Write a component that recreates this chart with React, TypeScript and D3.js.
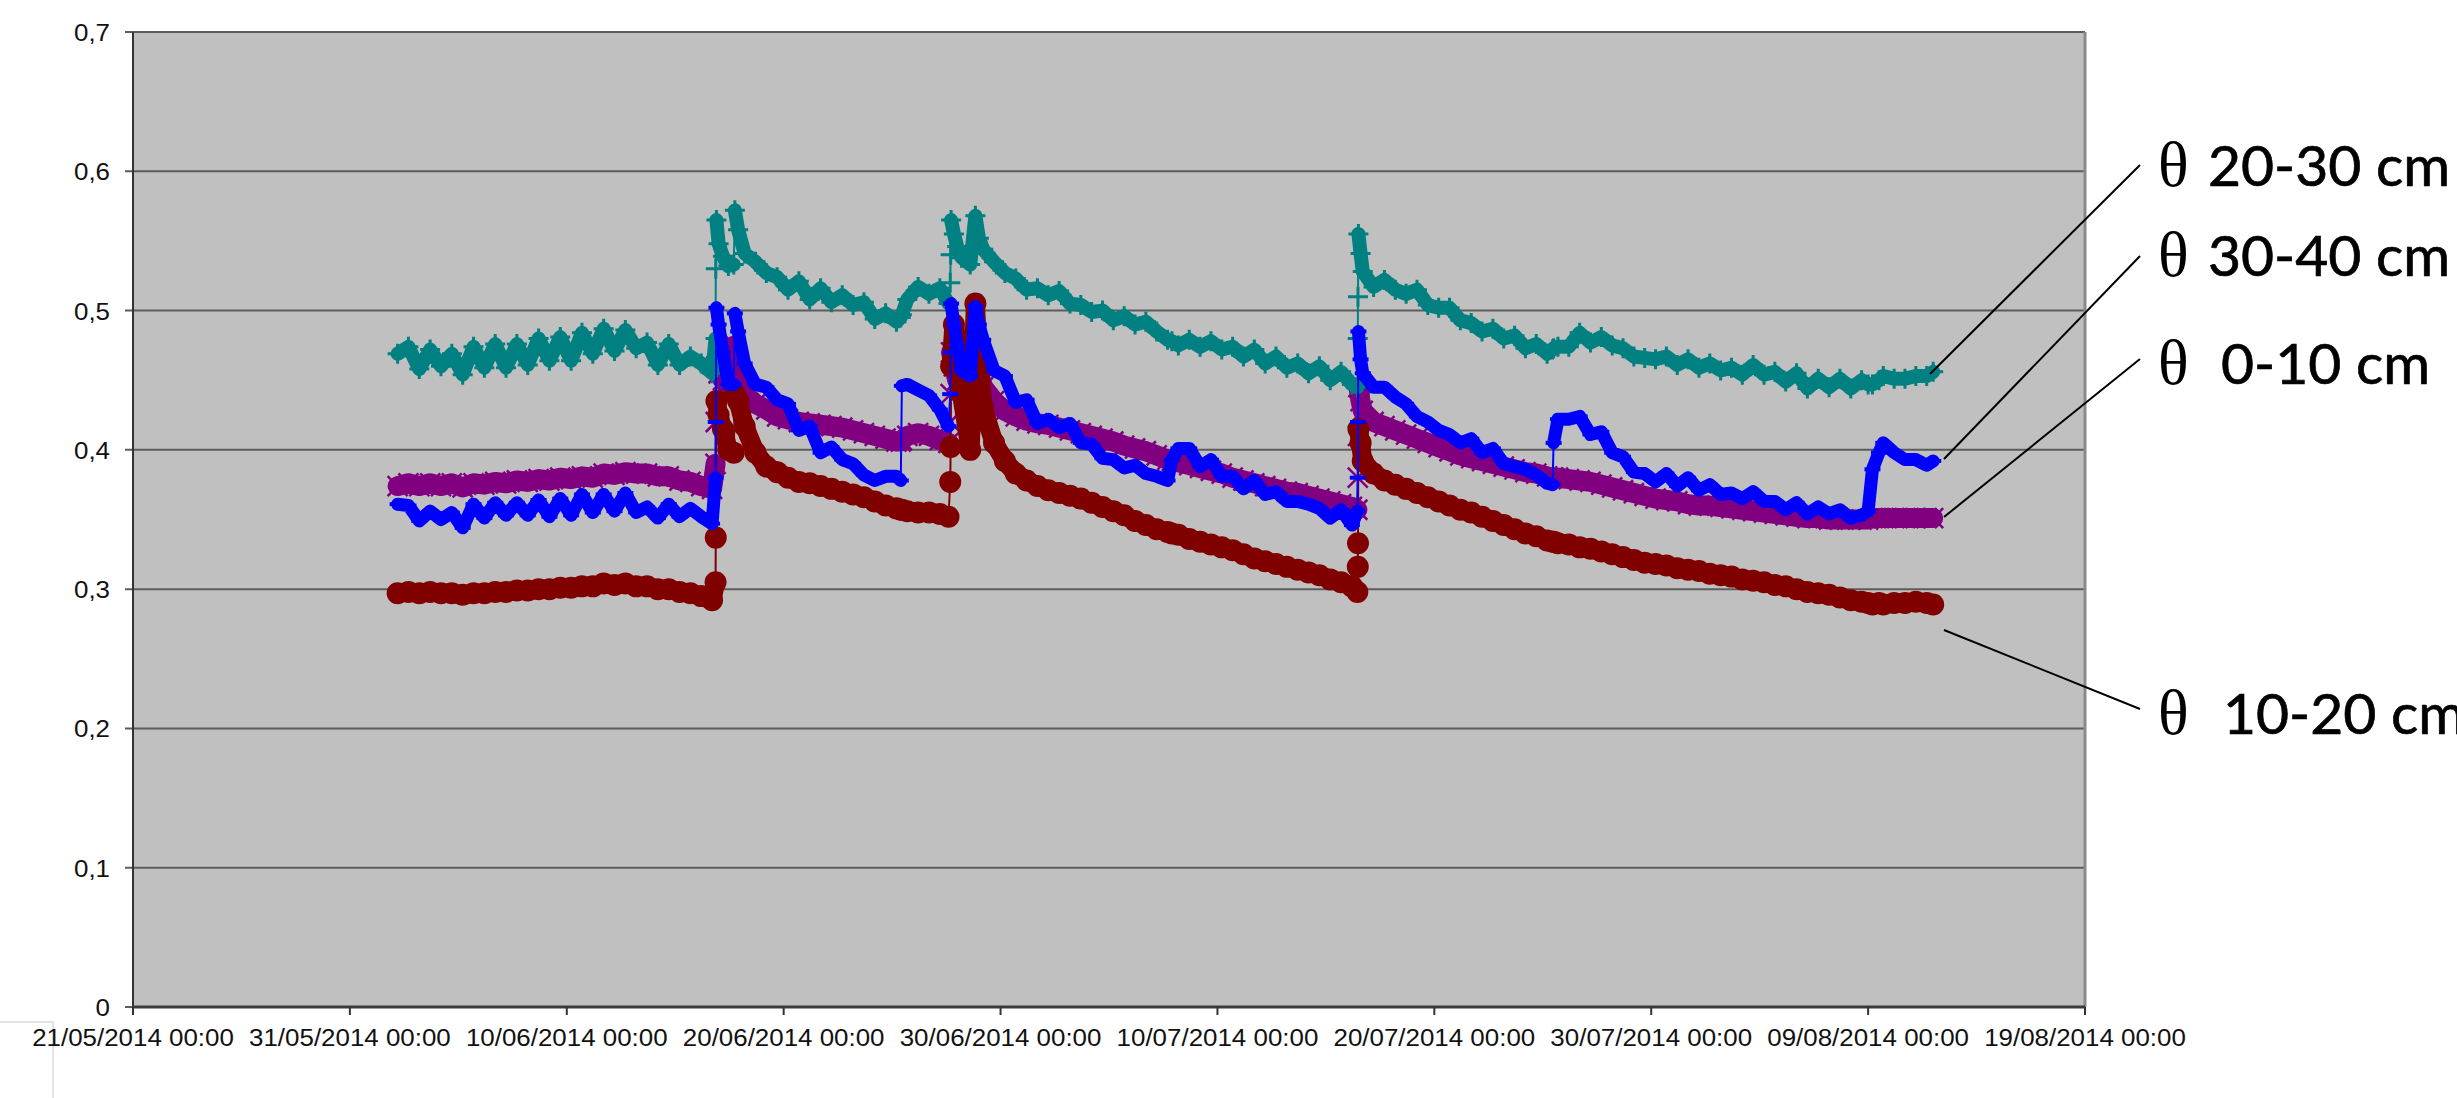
import React from 'react';
import * as d3 from 'd3';

const WIDTH = 2457;
const HEIGHT = 1098;
const plot = {left: 133, right: 2085, top: 32, bottom: 1007};

const startDate = Date.UTC(2014, 4, 21);
const endDate = Date.UTC(2014, 7, 19);
const DAY_MS = 86400000;

const xTickDates = ['2014-05-21', '2014-05-31', '2014-06-10', '2014-06-20', '2014-06-30',
    '2014-07-10', '2014-07-20', '2014-07-30', '2014-08-09', '2014-08-19'];
const yTicks = [0, 0.1, 0.2, 0.3, 0.4, 0.5, 0.6, 0.7];

// sample times, in days after 21/05/2014 00:00
const days = [
    12.2, 12.7, 13.2, 13.7, 14.2, 14.7, 15.2, 15.7, 16.2, 16.7,
    17.2, 17.7, 18.2, 18.7, 19.2, 19.7, 20.2, 20.7, 21.2, 21.7,
    22.2, 22.7, 23.2, 23.7, 24.2, 24.7, 25.2, 25.7, 26.2, 26.7,
    // first rain
    26.86, 26.87, 26.9, 27.0, 27.2, 27.45, 27.7, 27.75, 27.9, 28.2, 28.7, 29.2,
    29.7, 30.2, 30.7, 31.2, 31.7, 32.2, 32.7, 33.2, 33.7, 34.2, 34.7, 35.2, 35.4, 35.45, 35.7, 36.2, 36.7, 37.2, 37.6,
    // second rain
    37.68, 37.7, 37.72, 37.85, 38.0, 38.2, 38.6, 38.84, 39.0, 39.2,
    39.7, 40.2, 40.7, 41.2, 41.7, 42.2, 42.7, 43.2, 43.7, 44.2, 44.7, 45.2, 45.7, 46.2, 46.7, 47.2,
    47.7, 47.9, 48.2, 48.7, 49.2, 49.7, 50.2, 50.7, 51.2, 51.7, 52.2, 52.7, 53.2, 53.7, 54.2, 54.7, 55.2, 55.7, 56.2, 56.45,
    // third rain
    56.47, 56.48, 56.5, 56.6, 56.7,
    57.2, 57.7, 58.2, 58.7, 59.2, 59.7, 60.2, 60.7, 61.2, 61.7, 62.2, 62.7, 63.2, 63.7, 64.2, 64.7, 65.2, 65.45, 65.5,
    65.7, 66.2, 66.7, 67.2, 67.7, 68.2, 68.7, 69.2, 69.7, 70.2, 70.7, 71.2, 71.7, 72.2, 72.7,
    73.2, 73.7, 74.2, 74.7, 75.2, 75.7, 76.2, 76.7, 77.2, 77.7, 78.2, 78.7, 79.2, 79.7,
    80.0, 80.2, 80.5, 80.7, 81.2, 81.7, 82.2, 82.7, 83.0
];

const theta20_30 = [
    0.469, 0.474, 0.458, 0.472, 0.460, 0.469, 0.454, 0.474, 0.459, 0.476,
    0.459, 0.476, 0.461, 0.480, 0.464, 0.481, 0.464, 0.484, 0.469, 0.487,
    0.471, 0.486, 0.473, 0.477, 0.461, 0.476, 0.461, 0.467, 0.462, 0.455,
    0.480, 0.530, 0.565, 0.548, 0.539, 0.532, 0.533, 0.572, 0.558, 0.541, 0.535, 0.527,
    0.524, 0.515, 0.521, 0.508, 0.516, 0.506, 0.511, 0.504, 0.506, 0.494, 0.498, 0.492, 0.495, 0.497, 0.508, 0.517, 0.512, 0.516, 0.505,
    0.520, 0.540, 0.565, 0.555, 0.546, 0.538, 0.533, 0.568, 0.552, 0.544,
    0.535, 0.527, 0.523, 0.515, 0.516, 0.511, 0.514, 0.505, 0.504, 0.499, 0.500, 0.493, 0.496, 0.490, 0.492, 0.485,
    0.479, 0.478, 0.475, 0.479, 0.474, 0.478, 0.472, 0.474, 0.467, 0.472, 0.462, 0.467, 0.459, 0.462, 0.455, 0.460, 0.450, 0.456, 0.447, 0.445,
    0.480, 0.510, 0.555, 0.541, 0.528,
    0.517, 0.522, 0.515, 0.512, 0.515, 0.504, 0.502, 0.502, 0.493, 0.491, 0.485, 0.487, 0.480, 0.482, 0.473, 0.476, 0.469, 0.472, 0.473,
    0.474, 0.474, 0.484, 0.477, 0.481, 0.475, 0.473, 0.467, 0.466, 0.465, 0.467, 0.461, 0.465, 0.459, 0.462,
    0.457, 0.459, 0.454, 0.461, 0.454, 0.456, 0.449, 0.455, 0.444, 0.451, 0.445, 0.451, 0.444, 0.450,
    0.447, 0.447, 0.450, 0.453, 0.451, 0.451, 0.453, 0.453, 0.456
];

const theta30_40 = [
    0.361, 0.360, 0.349, 0.356, 0.350, 0.355, 0.344, 0.361, 0.351, 0.362,
    0.353, 0.362, 0.353, 0.364, 0.352, 0.365, 0.353, 0.368, 0.355, 0.368,
    0.356, 0.369, 0.355, 0.359, 0.351, 0.361, 0.352, 0.358, 0.352, 0.347,
    0.380, 0.420, 0.502, 0.490, 0.470, 0.447, 0.447, 0.498, 0.485, 0.462, 0.447, 0.445,
    0.436, 0.433, 0.414, 0.417, 0.398, 0.402, 0.393, 0.390, 0.382, 0.378, 0.381, 0.381, 0.378, 0.446, 0.447, 0.443, 0.439, 0.429, 0.417,
    0.440, 0.470, 0.505, 0.490, 0.475, 0.457, 0.453, 0.503, 0.490, 0.479,
    0.457, 0.453, 0.434, 0.436, 0.419, 0.422, 0.416, 0.419, 0.405, 0.404, 0.394, 0.393, 0.387, 0.389, 0.383, 0.381,
    0.378, 0.393, 0.401, 0.401, 0.388, 0.393, 0.381, 0.381, 0.372, 0.378, 0.368, 0.370, 0.363, 0.363, 0.361, 0.358, 0.351, 0.357, 0.346, 0.356,
    0.380, 0.420, 0.485, 0.465, 0.455,
    0.445, 0.445, 0.438, 0.433, 0.424, 0.420, 0.414, 0.411, 0.405, 0.408, 0.398, 0.401, 0.390, 0.388, 0.386, 0.382, 0.376, 0.375, 0.405,
    0.422, 0.422, 0.424, 0.411, 0.413, 0.398, 0.395, 0.384, 0.383, 0.377, 0.383, 0.374, 0.380, 0.371, 0.375,
    0.368, 0.369, 0.365, 0.370, 0.363, 0.363, 0.357, 0.362, 0.354, 0.359, 0.354, 0.357, 0.351, 0.353,
    0.356, 0.386, 0.398, 0.405, 0.398, 0.393, 0.393, 0.389, 0.392
];

const theta0_10 = [
    0.374, 0.376, 0.374, 0.376, 0.374, 0.376, 0.373, 0.376, 0.375, 0.377,
    0.376, 0.378, 0.377, 0.379, 0.378, 0.380, 0.379, 0.381, 0.380, 0.383,
    0.382, 0.384, 0.383, 0.383, 0.381, 0.381, 0.378, 0.377, 0.374, 0.372,
    0.390, 0.420, 0.460, 0.455, 0.450, 0.445, 0.443, 0.475, 0.460, 0.440, 0.433, 0.429,
    0.424, 0.422, 0.420, 0.419, 0.418, 0.417, 0.416, 0.414, 0.412, 0.410, 0.408, 0.406, 0.406, 0.407, 0.410, 0.412, 0.410, 0.407, 0.405,
    0.420, 0.440, 0.470, 0.460, 0.450, 0.445, 0.442, 0.465, 0.455, 0.445,
    0.435, 0.428, 0.424, 0.421, 0.419, 0.418, 0.416, 0.414, 0.412, 0.410, 0.408, 0.406, 0.403, 0.401, 0.399, 0.396,
    0.393, 0.392, 0.391, 0.389, 0.387, 0.385, 0.383, 0.380, 0.378, 0.376, 0.374, 0.372, 0.370, 0.369, 0.367, 0.365, 0.363, 0.361, 0.359, 0.357,
    0.380, 0.410, 0.445, 0.435, 0.428,
    0.420, 0.417, 0.414, 0.411, 0.408, 0.405, 0.402, 0.399, 0.396, 0.394, 0.392, 0.390, 0.388, 0.386, 0.384, 0.383, 0.381, 0.380, 0.380,
    0.380, 0.379, 0.378, 0.377, 0.375, 0.373, 0.371, 0.369, 0.367, 0.365, 0.364, 0.363, 0.361, 0.360, 0.360,
    0.359, 0.358, 0.357, 0.356, 0.355, 0.354, 0.353, 0.352, 0.351, 0.351, 0.350, 0.350, 0.350, 0.350,
    0.350, 0.351, 0.351, 0.351, 0.351, 0.351, 0.351, 0.351, 0.351
];

const theta10_20 = [
    0.297, 0.298, 0.297, 0.298, 0.297, 0.297, 0.296, 0.297, 0.297, 0.298,
    0.298, 0.299, 0.299, 0.300, 0.300, 0.301, 0.301, 0.302, 0.302, 0.304,
    0.303, 0.304, 0.302, 0.302, 0.300, 0.300, 0.298, 0.297, 0.295, 0.292,
    0.305, 0.337, 0.435, 0.425, 0.415, 0.400, 0.398, 0.440, 0.435, 0.417, 0.398, 0.388,
    0.384, 0.380, 0.377, 0.376, 0.374, 0.372, 0.370, 0.368, 0.366, 0.363, 0.360, 0.358, 0.357, 0.357, 0.356, 0.355, 0.355, 0.354, 0.352,
    0.377, 0.402, 0.460, 0.490, 0.480, 0.440, 0.400, 0.505, 0.460, 0.430,
    0.405, 0.392, 0.383, 0.378, 0.374, 0.371, 0.369, 0.367, 0.365, 0.362, 0.359, 0.356, 0.353, 0.349, 0.346, 0.343,
    0.341, 0.340, 0.339, 0.336, 0.334, 0.332, 0.330, 0.328, 0.325, 0.322, 0.320, 0.318, 0.316, 0.314, 0.312, 0.310, 0.307, 0.305, 0.302, 0.298,
    0.316, 0.333, 0.415, 0.405, 0.392,
    0.383, 0.378, 0.375, 0.372, 0.369, 0.366, 0.363, 0.360, 0.357, 0.355, 0.352, 0.349, 0.346, 0.343, 0.340, 0.338, 0.335, 0.334, 0.334,
    0.333, 0.332, 0.330, 0.329, 0.327, 0.325, 0.323, 0.321, 0.319, 0.318, 0.317, 0.315, 0.314, 0.313, 0.311,
    0.310, 0.309, 0.307, 0.306, 0.305, 0.303, 0.302, 0.300, 0.298, 0.297, 0.296, 0.294, 0.292, 0.291,
    0.290, 0.289, 0.290, 0.289, 0.290, 0.290, 0.291, 0.290, 0.289
];

const labelDepths = ['20-30 cm', '30-40 cm', '0-10 cm', '10-20 cm'];

const toDate = d => new Date(startDate + d * DAY_MS);

// consecutive samples closer than ~2h are the jumps at the rain events: thin line only
function bandRuns(n) {
    const runs = [];
    let cur = [0];
    for (let i = 1; i < n; i++) {
        if (days[i] - days[i - 1] >= 0.095) cur.push(i);
        else {
            if (cur.length > 1) runs.push(cur);
            cur = [i];
        }
    }
    if (cur.length > 1) runs.push(cur);
    return runs;
}

const markerPath = {
    plus: 'M-10,0H10M0,-10V10',
    cross: 'M-10,-10L10,10M-10,10L10,-10',
    dash: 'M-8,0H8',
};

export default function App() {
    const x = d3.scaleUtc().domain([startDate, endDate]).range([plot.left, plot.right]);
    const y = d3.scaleLinear().domain([0, 0.7]).range([plot.bottom, plot.top]);
    const parse = d3.utcParse('%Y-%m-%d');
    const fmt = d3.utcFormat('%d/%m/%Y %H:%M');
    const yFmt = v => (v === 0 ? '0' : d3.format('.1f')(v).replace('.', ','));

    // drawing order: purple under, blue on top
    const series = [
        {key: 'p', values: theta0_10, color: '#800080', band: 20, marker: 'cross', mw: 2.5},
        {key: 't', values: theta20_30, color: '#008080', band: 14, marker: 'plus', mw: 3},
        {key: 'r', values: theta10_20, color: '#800000', band: 19, marker: 'circle', mw: 0},
        {key: 'b', values: theta30_40, color: '#0000FF', band: 13, marker: 'dash', mw: 4},
    ];

    const runs = bandRuns(days.length);

    const line = vals => d3.line()
        .x(i => x(toDate(days[i])))
        .y(i => y(vals[i]));

    return (
        <svg width={WIDTH} height={HEIGHT} style={{position: 'absolute', left: 0, top: 0, background: '#fff'}}
             fontFamily="'Liberation Sans', Arial, sans-serif">
            <rect x={0} y={0} width={WIDTH} height={HEIGHT} fill="#ffffff"/>
            {/* faint frame remnant bottom-left */}
            <path d="M0,1022H53V1098" fill="none" stroke="#e2e2e2" strokeWidth={2}/>

            <rect x={plot.left} y={plot.top} width={plot.right - plot.left} height={plot.bottom - plot.top}
                  fill="#C0C0C0"/>

            {yTicks.map(t => (
                <g key={t}>
                    <line x1={plot.left - 8} x2={plot.right} y1={y(t)} y2={y(t)} stroke="#5c5c5c" strokeWidth={2}/>
                    <text transform={`translate(110,${y(t) + 9}) scale(1.08,1)`} textAnchor="end" fontSize={24}
                          fill="#111">{yFmt(t)}</text>
                </g>
            ))}

            <line x1={plot.right} x2={plot.right} y1={plot.top} y2={plot.bottom} stroke="#8a8a8a" strokeWidth={3}/>
            <line x1={plot.left} x2={plot.left} y1={plot.top} y2={plot.bottom + 1} stroke="#333" strokeWidth={2}/>
            <line x1={plot.left} x2={plot.right} y1={plot.bottom} y2={plot.bottom} stroke="#3a3a3a" strokeWidth={3}/>

            {xTickDates.map(s => {
                const d = parse(s);
                const px = x(d);
                return (
                    <g key={s}>
                        <line x1={px} x2={px} y1={plot.bottom} y2={plot.bottom + 8} stroke="#333" strokeWidth={2}/>
                        <text transform={`translate(${px},1046) scale(1.08,1)`} textAnchor="middle" fontSize={24}
                              fill="#111">{fmt(d)}</text>
                    </g>
                );
            })}

            {series.map(s => {
                const gen = line(s.values);
                const idx = d3.range(days.length);
                return (
                    <g key={s.key}>
                        {runs.map((r, k) => (
                            <path key={k} d={gen(r)} fill="none" stroke={s.color} strokeWidth={s.band}
                                  strokeLinejoin="round" strokeLinecap="round"/>
                        ))}
                        <path d={gen(idx)} fill="none" stroke={s.color} strokeWidth={2}/>
                        {idx.map(i => {
                            const cx = x(toDate(days[i]));
                            const cy = y(s.values[i]);
                            if (s.marker === 'circle') {
                                return <circle key={i} cx={cx} cy={cy} r={11} fill={s.color}/>;
                            }
                            return (
                                <path key={i} d={markerPath[s.marker]} transform={`translate(${cx},${cy})`}
                                      stroke={s.color} strokeWidth={s.mw} fill="none"/>
                            );
                        })}
                    </g>
                );
            })}

            {/* leader lines */}
            <g stroke="#000" strokeWidth={2}>
                <line x1={2140} y1={165} x2={1930} y2={374}/>
                <line x1={2140} y1={256} x2={1944} y2={459}/>
                <line x1={2140} y1={359} x2={1944} y2={517}/>
                <line x1={1944} y1={630} x2={2140} y2={709}/>
            </g>

            {labelDepths.map((lab, i) => {
                const base = [186, 276, 384, 734][i];
                const tx = [2208, 2208, 2221, 2223][i];
                return (
                    <g key={lab} fill="#000">
                        <text x={2158} y={base} fontSize={64} fontFamily="'Liberation Serif', 'DejaVu Serif', serif">θ</text>
                        <text x={tx} y={base} fontSize={57} stroke="#000" strokeWidth={0.7}
                              fontFamily="Lato, 'Open Sans', sans-serif">{lab}</text>
                    </g>
                );
            })}
        </svg>
    );
}
